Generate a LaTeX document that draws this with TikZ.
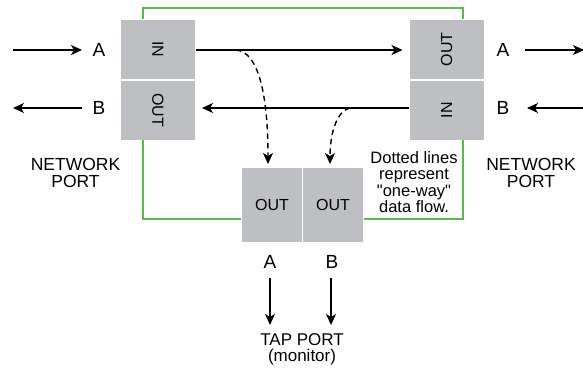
\documentclass[tikz,border=0pt]{standalone}
\usepackage{fontspec}
\setmainfont{Liberation Sans}[Ligatures=TeXOff]
\usetikzlibrary{arrows.meta}
\definecolor{boxgray}{RGB}{190,191,195}
\definecolor{linegreen}{RGB}{86,190,72}
\tikzset{
  port/.style={draw=white, line width=1pt, fill=boxgray, inner sep=0pt, font=\fontsize{16}{16}\selectfont},
  lbl/.style={inner sep=0pt, font=\fontsize{19}{19}\selectfont},
  flow/.style={line width=1.5pt, -{Stealth[length=11pt,width=10pt,inset=3pt]}},
  dflow/.style={line width=1.4pt, dash pattern=on 5.5pt off 4pt, -{Stealth[length=11pt,width=10pt,inset=3pt]}},
  green/.style={draw=linegreen, line width=1.5pt}
}
\begin{document}
\begin{tikzpicture}[x=1pt,y=-1pt]
\useasboundingbox (0,0) rectangle (583,367);
% boxes
\node[port, minimum width=75pt, minimum height=60pt] (lin) at (158,49.5) {\rotatebox{-90}{IN}};
\node[port, minimum width=75pt, minimum height=60pt] (lout) at (158,110) {\rotatebox{-90}{OUT}};
\node[port, minimum width=75pt, minimum height=60pt] (rout) at (446.5,49.5) {\rotatebox{90}{OUT}};
\node[port, minimum width=75pt, minimum height=60pt] (rin) at (446.5,110) {\rotatebox{90}{IN}};
\node[port, minimum width=61pt, minimum height=75pt] (ta) at (272,205) {OUT};
\node[port, minimum width=61pt, minimum height=75pt] (tb) at (333,205) {OUT};
% green frame
\draw[green] (143,19) -- (143,8) -- (463,8) -- (463,19);
\draw[green] (143,140) -- (143,219) -- (241,219);
\draw[green] (364,219) -- (463,219) -- (463,140);
% labels
\node[lbl] (la) at (99,50) {A};
\node[lbl] (lb) at (99,108) {B};
\node[lbl] (ra) at (503,50) {A};
\node[lbl] (rb) at (503,108) {B};
\node[lbl] (ba) at (270,262) {A};
\node[lbl] (bb) at (332,262) {B};
\node[lbl, align=center, font=\fontsize{17.5}{16.5}\selectfont] (lnp) at (75.5,173) {NETWORK\\PORT};
\node[lbl, align=center, font=\fontsize{17.5}{16.5}\selectfont] (rnp) at (531,173) {NETWORK\\PORT};
\node[lbl, align=center, font=\fontsize{17}{15.5}\selectfont] (tap) at (302,349.5) {TAP PORT\\(monitor)};
\node[lbl, align=center, font=\fontsize{16.5}{16.5}\selectfont] (note) at (414,182) {Dotted lines\\represent\\"one-way"\\data flow.};
% coordinates
\coordinate (l1) at (13,50);
\coordinate (l2) at (82,50);
\coordinate (l3) at (82,108);
\coordinate (l4) at (13,108);
\coordinate (r1) at (525,50);
\coordinate (r2) at (584,50);
\coordinate (r3) at (584,108);
\coordinate (r4) at (527,108);
\coordinate (ta1) at (270,278);
\coordinate (ta2) at (270,325);
\coordinate (tb1) at (331,278);
\coordinate (tb2) at (331,325);
\coordinate (d1) at (236,50);
\coordinate (d2) at (350,108);
% arrows
\draw[flow] (l1) -- (l2);
\draw[flow] (l3) -- (l4);
\draw[flow] (r1) -- (r2);
\draw[flow] (r3) -- (r4);
\draw[flow, shorten >=6pt] (lin.east |- la) -- (rout.west |- la);
\draw[flow, shorten >=6pt] (rin.west |- lb) -- (lout.east |- lb);
\draw[flow] (ta1) -- (ta2);
\draw[flow] (tb1) -- (tb2);
\draw[dflow, shorten >=3pt] (d1) .. controls (260,52) and (268,100) .. (ta.north -| 268,0);
\draw[dflow, shorten >=3pt] (d2) .. controls (334,112) and (330,140) .. (tb.north -| 330,0);
\end{tikzpicture}
\end{document}
